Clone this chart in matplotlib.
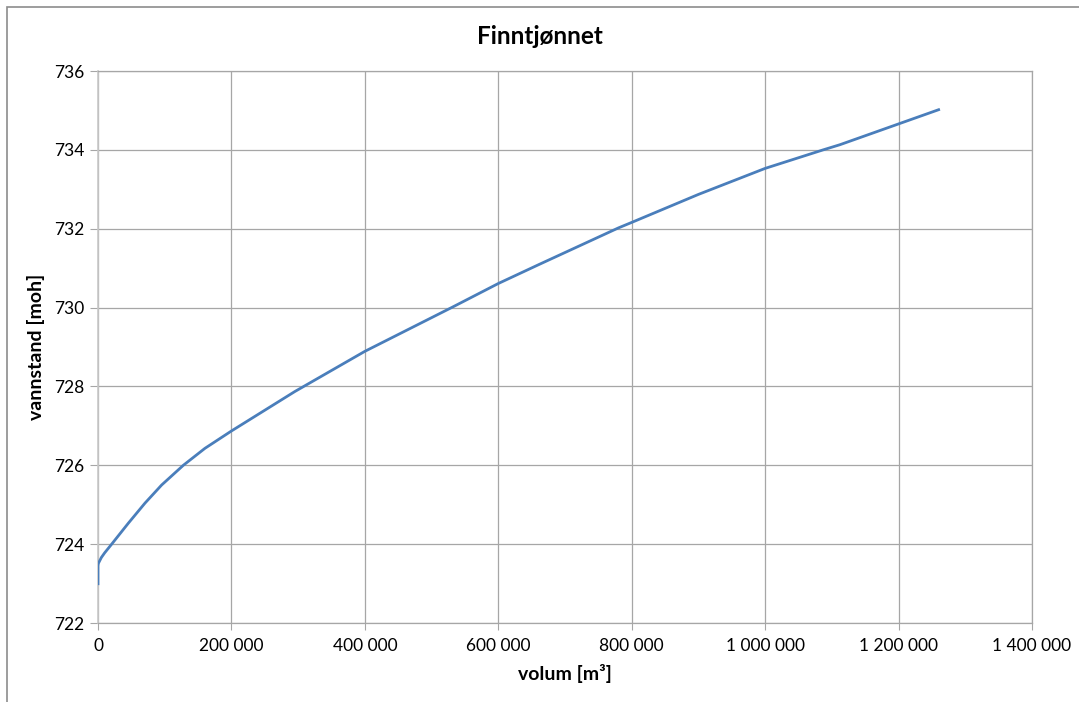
import matplotlib.pyplot as plt
from matplotlib.patches import Rectangle
from matplotlib.ticker import FuncFormatter, MultipleLocator

# volum [m3] vs vannstand [moh]
volum = [0, 0, 500, 5000, 10000, 20500, 45400, 70400, 95400, 127900,
         160300, 200000, 295000, 400000, 530000, 600000, 662000, 780000,
         800000, 900000, 1000000, 1087000, 1112000, 1262000]
vannstand = [722.96, 723.45, 723.51, 723.66, 723.78, 724.0, 724.53, 725.04,
             725.5, 726.0, 726.43, 726.87, 727.87, 728.89, 730.0, 730.61,
             731.1, 732.02, 732.16, 732.87, 733.53, 734.0, 734.13, 735.03]

plt.rcParams['font.family'] = ['Lato', 'DejaVu Sans']

fig = plt.figure(figsize=(10.79, 7.02), dpi=100)
ax = fig.add_axes([98 / 1079, 1 - 623 / 702, 934 / 1079, 552 / 702])

# outer chart frame
fig.patches.append(Rectangle((7 / 1079, -0.1), 1.2, 1 - 7 / 702 + 0.1,
                             transform=fig.transFigure, fill=False,
                             edgecolor='#8c8c8c', linewidth=1.2))

ax.plot(volum, vannstand, color='#4a7ebb', linewidth=2.0,
        solid_capstyle='butt', solid_joinstyle='round', zorder=3)

ax.set_xlim(0, 1400000)
ax.set_ylim(722, 736)
ax.xaxis.set_major_locator(MultipleLocator(200000))
ax.yaxis.set_major_locator(MultipleLocator(2))
ax.xaxis.set_major_formatter(FuncFormatter(lambda v, p: f"{int(v):,}".replace(",", " ")))

ax.grid(True, color='#a6a6a6', linewidth=0.9)
ax.set_axisbelow(True)
for side in ['top', 'right', 'bottom']:
    ax.spines[side].set_color('#a6a6a6')
    ax.spines[side].set_linewidth(0.9)
ax.spines['left'].set_color('#c8c8c8')
ax.spines['left'].set_linewidth(1.2)

ax.tick_params(axis='y', length=6, color='#a6a6a6', labelsize=12.5, pad=4)
ax.tick_params(axis='x', length=5, color='#a6a6a6', labelsize=12.5, pad=6)

ax.set_xlabel("volum [m³]", fontsize=14, fontweight='bold', labelpad=7)
ax.set_ylabel("vannstand [moh]", fontsize=14, fontweight='bold', labelpad=6)
fig.text(0.5, 1 - 37 / 702, "Finntjønnet", ha='center', va='center',
         fontsize=17.5, fontweight='bold')

fig.savefig("out.png", dpi=100)
